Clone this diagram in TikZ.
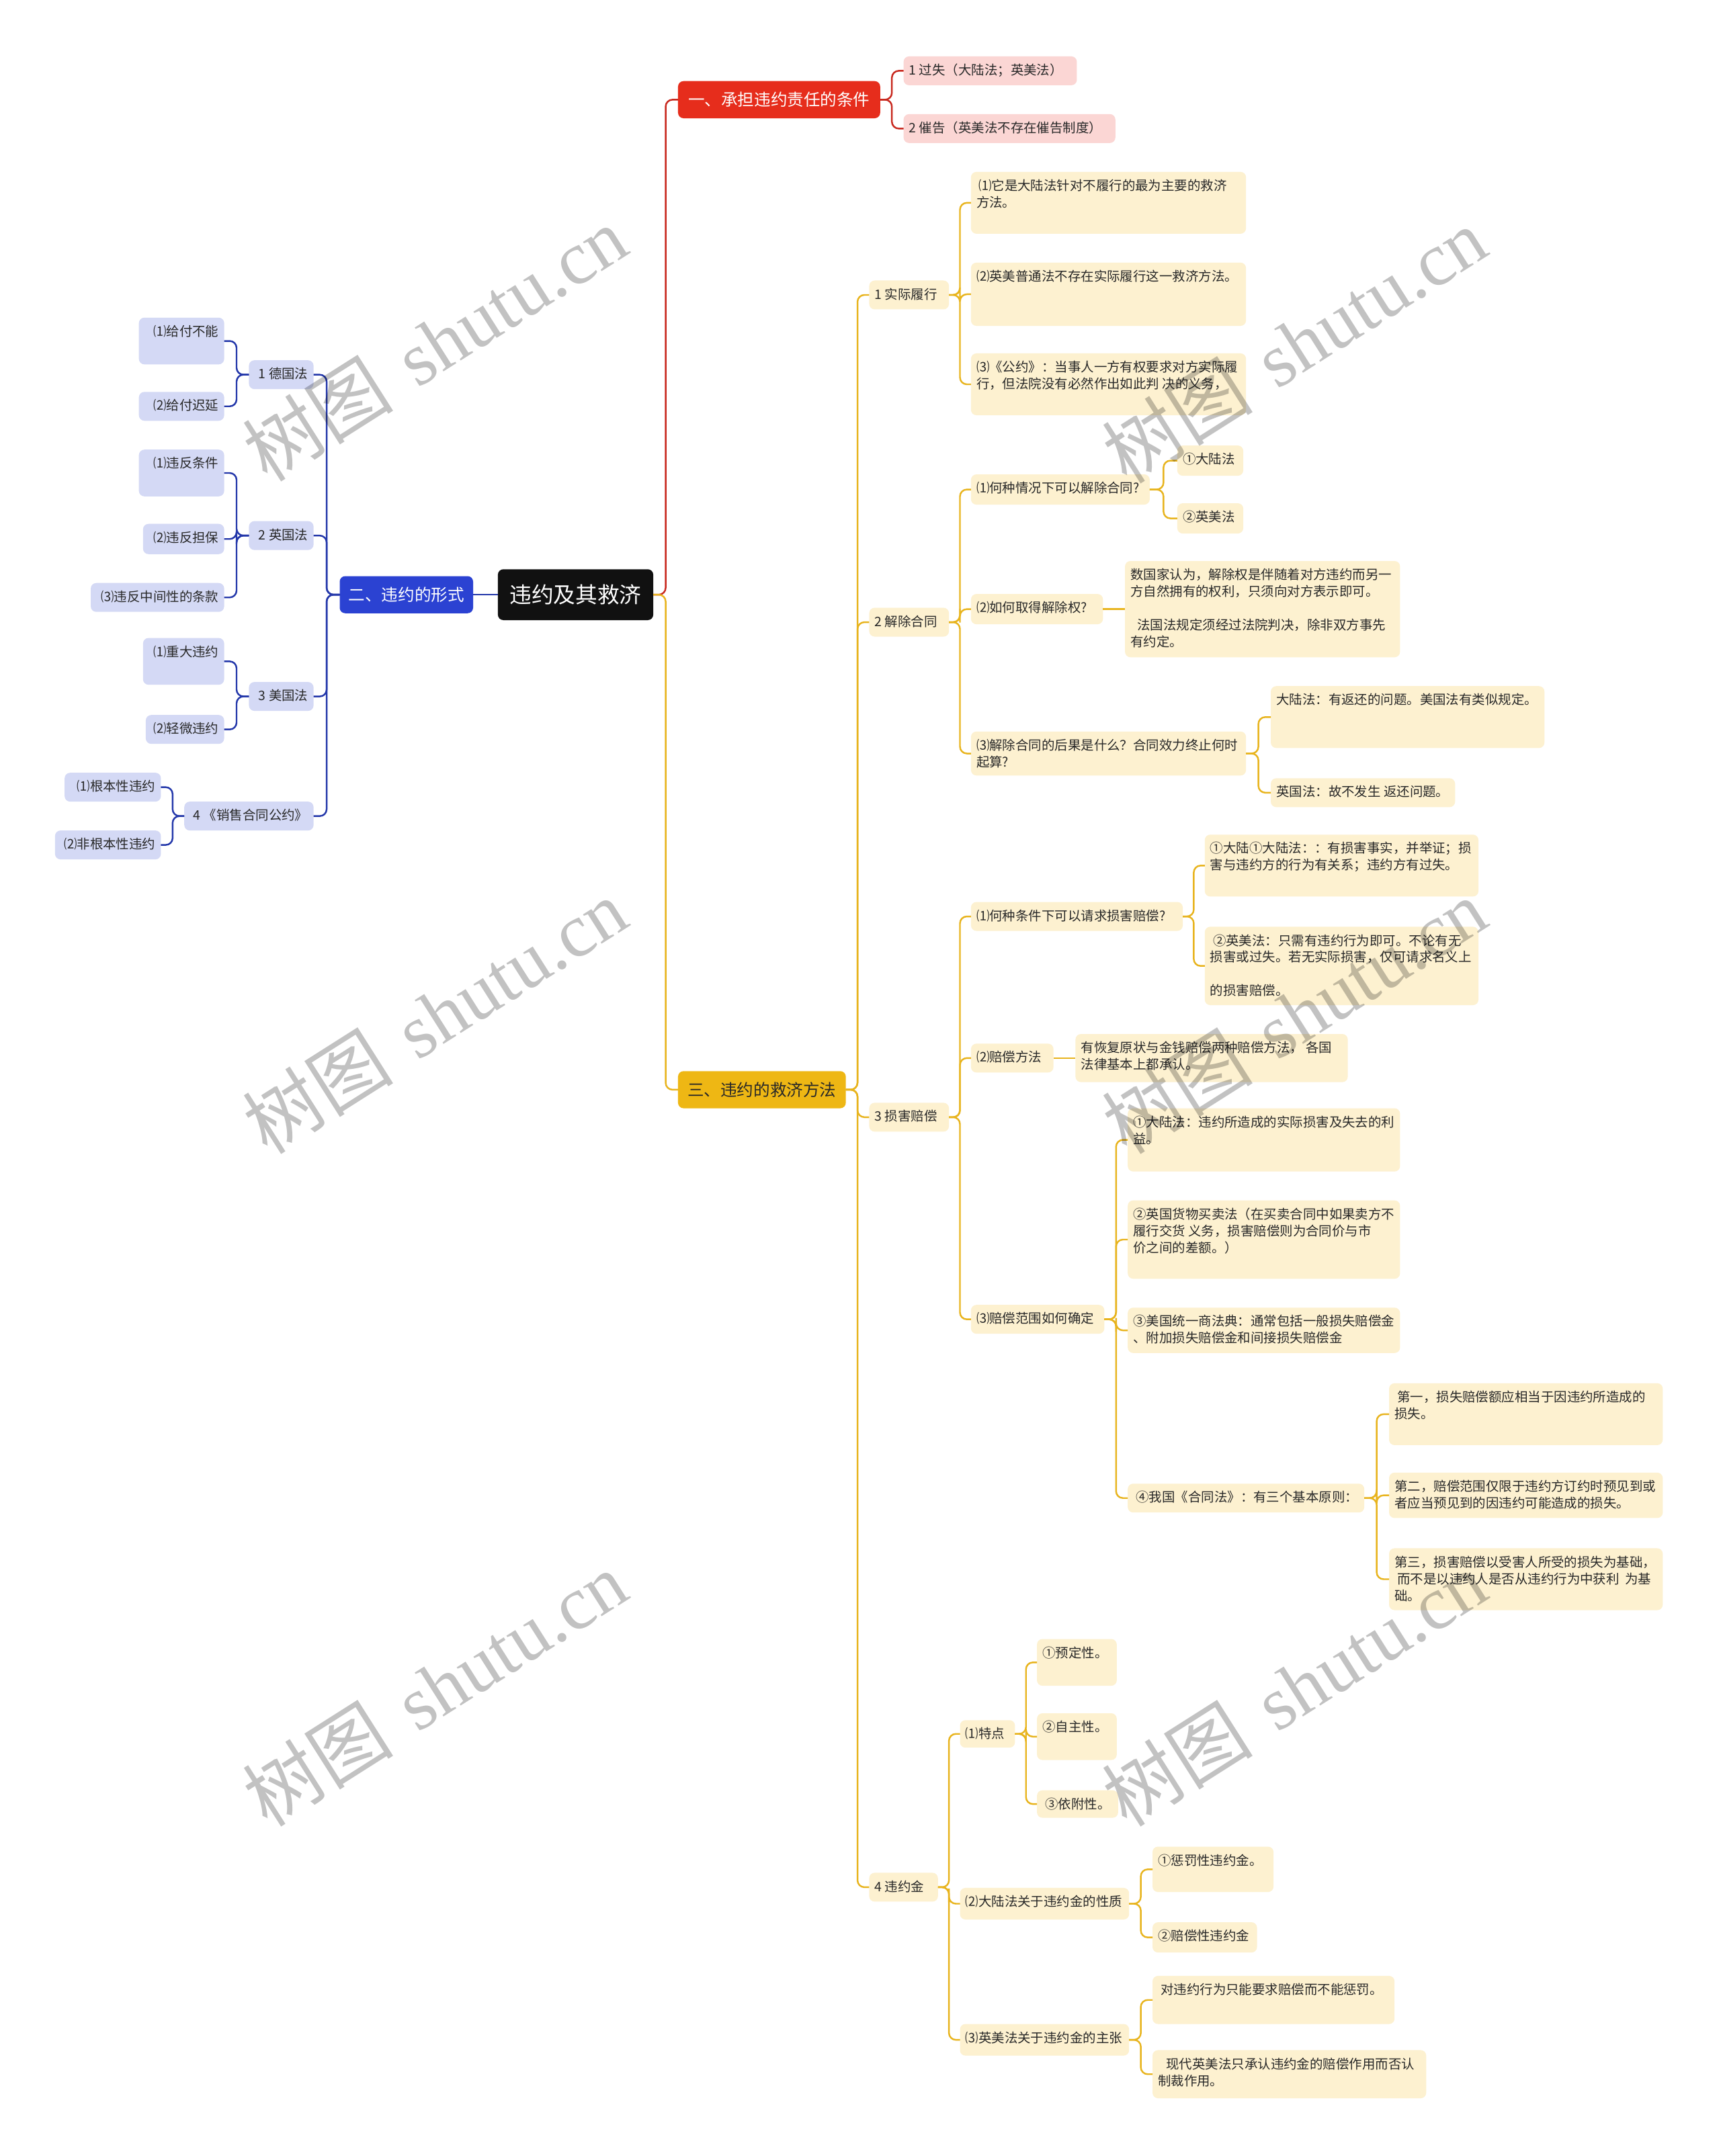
\documentclass[tikz,border=0pt]{standalone}
\usepackage{fontspec}
\setmainfont{Noto Sans CJK SC}
\newfontfamily\wmlatin{Liberation Serif}
\usetikzlibrary{calc}
\definecolor{rootc}{RGB}{17,17,17}
\definecolor{redm}{RGB}{230,45,28}
\definecolor{redl}{RGB}{200,40,30}
\definecolor{pinkc}{RGB}{251,214,212}
\definecolor{bluem}{RGB}{43,66,210}
\definecolor{bluel}{RGB}{35,55,170}
\definecolor{lavc}{RGB}{212,217,245}
\definecolor{yelm}{RGB}{238,183,20}
\definecolor{yell}{RGB}{232,180,30}
\definecolor{creamc}{RGB}{253,241,208}
\definecolor{txt}{RGB}{40,40,40}
\newcommand\bxL[3]{\parbox[c][\dimexpr#2pt-10pt\relax][t]{\dimexpr#1pt-8pt\relax}{\raggedright\rule{0pt}{8.5pt}#3}}
\newcommand\bxR[3]{\parbox[c][\dimexpr#2pt-10pt\relax][t]{\dimexpr#1pt-8pt\relax}{\raggedleft\rule{0pt}{8.5pt}#3}}
\newcommand\cR[3]{\draw[#1] (#2.east) -| ($(#2.east)!.5!(#3.west)$) |- (#3.west);}
\newcommand\cL[3]{\draw[#1] (#2.west) -| ($(#2.west)!.5!(#3.east)$) |- (#3.east);}
\tikzset{
  nb/.style={anchor=north west, rounded corners=4pt, inner xsep=4pt, inner ysep=5pt, outer sep=0pt, font=\fontsize{9.5}{12.2}\selectfont, text=txt},
  cr/.style={nb, fill=creamc},
  pk/.style={nb, fill=pinkc},
  lv/.style={nb, fill=lavc},
  mainb/.style={anchor=north west, rounded corners=4pt, inner sep=0pt, outer sep=0pt, font=\fontsize{12}{14}\selectfont, align=center},
  yln/.style={draw=yell, line width=1.2pt, rounded corners=5pt},
  bln/.style={draw=bluel, line width=1.2pt, rounded corners=5pt},
  rln/.style={draw=redl, line width=1.2pt, rounded corners=5pt},
  wm/.style={rotate=32.4, text=black, text opacity=0.24, inner sep=0pt, font=\fontsize{55}{60}\selectfont}
}
\begin{document}
\begin{tikzpicture}[x=1pt,y=-1pt]
\fill[white] (0,0) rectangle (1251,1568);
\useasboundingbox (0,0) rectangle (1251,1568);

% main nodes
\node[mainb, fill=rootc, text=white, minimum width=113pt, minimum height=37pt, font=\fontsize{16}{18}\selectfont] (root) at (362,414) {违约及其救济};
\node[mainb, fill=redm, text=white, minimum width=147pt, minimum height=27pt] (br) at (493,59) {一、承担违约责任的条件};
\node[mainb, fill=bluem, text=white, minimum width=97pt, minimum height=27pt] (bb) at (247,419) {二、违约的形式};
\node[mainb, fill=yelm, text=txt, minimum width=122pt, minimum height=27pt] (by) at (493,779) {三、违约的救济方法};

% red branch
\node[pk] (r1) at (657,41) {\bxL{126}{21}{1 过失（大陆法；英美法）}};
\node[pk] (r2) at (657,83) {\bxL{154}{21}{2 催告（英美法不存在催告制度）}};

% blue branch
\node[lv] (b1) at (181,262) {\bxR{47}{21}{1 德国法}};
\node[lv] (b1a) at (101,231) {\bxR{62}{34}{⑴给付不能}};
\node[lv] (b1b) at (101,285) {\bxR{62}{21}{⑵给付迟延}};
\node[lv] (b2) at (181,379) {\bxR{47}{21}{2 英国法}};
\node[lv] (b2a) at (101,327) {\bxR{62}{34}{⑴违反条件}};
\node[lv] (b2b) at (104,381) {\bxR{59}{22}{⑵违反担保}};
\node[lv] (b2c) at (66,424) {\bxR{97}{21}{⑶违反中间性的条款}};
\node[lv] (b3) at (181,496) {\bxR{47}{21}{3 美国法}};
\node[lv] (b3a) at (104,464) {\bxR{59}{34}{⑴重大违约}};
\node[lv] (b3b) at (106,520) {\bxR{57}{21}{⑵轻微违约}};
\node[lv] (b4) at (134,583) {\bxR{94}{21}{4 《销售合同公约》}};
\node[lv] (b4a) at (47,562) {\bxR{70}{21}{⑴根本性违约}};
\node[lv] (b4b) at (40,604) {\bxR{77}{21}{⑵非根本性违约}};

% yellow level 2
\node[cr] (y1) at (632,204) {\bxL{58}{21}{1 实际履行}};
\node[cr] (y2) at (632,442) {\bxL{58}{21}{2 解除合同}};
\node[cr] (y3) at (632,802) {\bxL{58}{21}{3 损害赔偿}};
\node[cr] (y4) at (632,1362) {\bxL{50}{21}{4 违约金}};

% 1 实际履行
\node[cr] (y1a) at (706,125) {\bxL{200}{45}{\hspace*{1.5pt}⑴它是大陆法针对不履行的最为主要的救济\\方法。}};
\node[cr] (y1b) at (706,191) {\bxL{200}{46}{⑵英美普通法不存在实际履行这一救济方法。}};
\node[cr] (y1c) at (706,257) {\bxL{200}{45}{⑶《公约》：当事人一方有权要求对方实际履\\行，但法院没有必然作出如此判 决的义务，}};

% 2 解除合同
\node[cr] (y2a) at (706,345) {\bxL{130}{22}{⑴何种情况下可以解除合同?}};
\node[cr] (y2a1) at (856,324) {\bxL{48}{22}{①大陆法}};
\node[cr] (y2a2) at (856,366) {\bxL{48}{22}{②英美法}};
\node[cr] (y2b) at (706,432) {\bxL{96}{22}{⑵如何取得解除权?}};
\node[cr] (y2b1) at (818,408) {\bxL{200}{70}{数国家认为，解除权是伴随着对方违约而另一\\方自然拥有的权利，只须向对方表示即可。\\[12.2pt]\hspace*{5pt}法国法规定须经过法院判决，除非双方事先\\有约定。}};
\node[cr] (y2c) at (706,532) {\bxL{200}{32}{⑶解除合同的后果是什么？合同效力终止何时\\起算?}};
\node[cr] (y2c1) at (924,499) {\bxL{199}{45}{大陆法：有返还的问题。美国法有类似规定。}};
\node[cr] (y2c2) at (924,566) {\bxL{134}{21}{英国法：故不发生 返还问题。}};

% 3 损害赔偿
\node[cr] (y3a) at (706,656) {\bxL{154}{21}{⑴何种条件下可以请求损害赔偿?}};
\node[cr] (y3a1) at (876,607) {\bxL{199}{45}{①大陆①大陆法：：有损害事实，并举证；损\\害与违约方的行为有关系；违约方有过失。}};
\node[cr] (y3a2) at (876,674) {\bxL{199}{57}{\hspace*{2pt}②英美法：只需有违约行为即可。不论有无\\损害或过失。若无实际损害，仅可请求名义上\\[12.2pt]的损害赔偿。}};
\node[cr] (y3b) at (706,759) {\bxL{60}{21}{⑵赔偿方法}};
\node[cr] (y3b1) at (782,752) {\bxL{198}{35}{有恢复原状与金钱赔偿两种赔偿方法， 各国\\法律基本上都承认。}};
\node[cr] (y3c) at (706,949) {\bxL{97}{21}{⑶赔偿范围如何确定}};
\node[cr] (y3c1) at (820,806) {\bxL{198}{46}{①大陆法：违约所造成的实际损害及失去的利\\益。}};
\node[cr] (y3c2) at (820,873) {\bxL{198}{57}{②英国货物买卖法（在买卖合同中如果卖方不\\履行交货 义务，损害赔偿则为合同价与市\\价之间的差额。）}};
\node[cr] (y3c3) at (820,951) {\bxL{198}{33}{③美国统一商法典：通常包括一般损失赔偿金\\、附加损失赔偿金和间接损失赔偿金}};
\node[cr] (y3c4) at (820,1079) {\bxL{172}{21}{\hspace*{2pt}④我国《合同法》：有三个基本原则：}};
\node[cr] (y3c4a) at (1010,1006) {\bxL{199}{45}{\hspace*{2pt}第一，损失赔偿额应相当于因违约所造成的\\损失。}};
\node[cr] (y3c4b) at (1010,1071) {\bxL{199}{33}{第二，赔偿范围仅限于违约方订约时预见到或\\者应当预见到的因违约可能造成的损失。}};
\node[cr] (y3c4c) at (1010,1126) {\bxL{199}{45}{第三，损害赔偿以受害人所受的损失为基础，\\\hspace*{2pt}而不是以违约人是否从违约行为中获利 \ 为基\\础。}};

% 4 违约金
\node[cr] (y4a) at (698,1251) {\bxL{40}{20}{⑴特点}};
\node[cr] (y4a1) at (754,1192) {\bxL{58}{34}{①预定性。}};
\node[cr] (y4a2) at (754,1246) {\bxL{58}{34}{②自主性。}};
\node[cr] (y4a3) at (754,1302) {\bxL{59}{20}{\hspace*{2pt}③依附性。}};
\node[cr] (y4b) at (698,1373) {\bxL{123}{23}{⑵大陆法关于违约金的性质}};
\node[cr] (y4b1) at (838,1343) {\bxL{88}{33}{①惩罚性违约金。}};
\node[cr] (y4b2) at (838,1398) {\bxL{76}{22}{②赔偿性违约金}};
\node[cr] (y4c) at (698,1472) {\bxL{123}{23}{⑶英美法关于违约金的主张}};
\node[cr] (y4c1) at (838,1437) {\bxL{176}{35}{\hspace*{2pt}对违约行为只能要求赔偿而不能惩罚。}};
\node[cr] (y4c2) at (838,1491) {\bxL{199}{35}{\hspace*{6pt}现代英美法只承认违约金的赔偿作用而否认\\制裁作用。}};

% connectors
\cR{rln}{root}{br}
\cR{yln}{root}{by}
\draw[bln] (bb.east) -- (root.west);
\cR{rln}{br}{r1}
\cR{rln}{br}{r2}
\cL{bln}{bb}{b1}
\cL{bln}{bb}{b2}
\cL{bln}{bb}{b3}
\cL{bln}{bb}{b4}
\cL{bln}{b1}{b1a}
\cL{bln}{b1}{b1b}
\cL{bln}{b2}{b2a}
\cL{bln}{b2}{b2b}
\cL{bln}{b2}{b2c}
\cL{bln}{b3}{b3a}
\cL{bln}{b3}{b3b}
\cL{bln}{b4}{b4a}
\cL{bln}{b4}{b4b}
\cR{yln}{by}{y1}
\cR{yln}{by}{y2}
\cR{yln}{by}{y3}
\cR{yln}{by}{y4}
\cR{yln}{y1}{y1a}
\cR{yln}{y1}{y1b}
\cR{yln}{y1}{y1c}
\cR{yln}{y2}{y2a}
\cR{yln}{y2}{y2b}
\cR{yln}{y2}{y2c}
\cR{yln}{y2a}{y2a1}
\cR{yln}{y2a}{y2a2}
\draw[yln] (y2b.east) -- (y2b1.west);
\cR{yln}{y2c}{y2c1}
\cR{yln}{y2c}{y2c2}
\cR{yln}{y3}{y3a}
\cR{yln}{y3}{y3b}
\cR{yln}{y3}{y3c}
\cR{yln}{y3a}{y3a1}
\cR{yln}{y3a}{y3a2}
\draw[yln] (y3b.east) -- (y3b1.west);
\cR{yln}{y3c}{y3c1}
\cR{yln}{y3c}{y3c2}
\cR{yln}{y3c}{y3c3}
\cR{yln}{y3c}{y3c4}
\cR{yln}{y3c4}{y3c4a}
\cR{yln}{y3c4}{y3c4b}
\cR{yln}{y3c4}{y3c4c}
\cR{yln}{y4}{y4a}
\cR{yln}{y4}{y4b}
\cR{yln}{y4}{y4c}
\cR{yln}{y4a}{y4a1}
\cR{yln}{y4a}{y4a2}
\cR{yln}{y4a}{y4a3}
\cR{yln}{y4b}{y4b1}
\cR{yln}{y4b}{y4b2}
\cR{yln}{y4c}{y4c1}
\cR{yln}{y4c}{y4c2}

% watermarks
\node[wm] (wm1) at (316,250) {树图\hspace{0.35em}{\wmlatin shutu.cn}};
\node[wm] (wm2) at (941,251) {树图\hspace{0.35em}{\wmlatin shutu.cn}};
\node[wm] (wm3) at (316,739) {树图\hspace{0.35em}{\wmlatin shutu.cn}};
\node[wm] (wm4) at (941,739) {树图\hspace{0.35em}{\wmlatin shutu.cn}};
\node[wm] (wm5) at (316,1228) {树图\hspace{0.35em}{\wmlatin shutu.cn}};
\node[wm] (wm6) at (941,1228) {树图\hspace{0.35em}{\wmlatin shutu.cn}};
\end{tikzpicture}
\end{document}
